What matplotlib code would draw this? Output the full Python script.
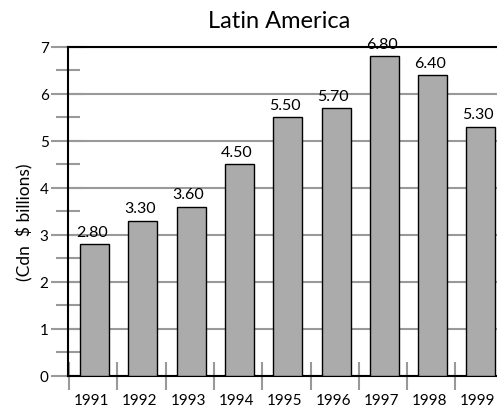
import numpy as np
import matplotlib
matplotlib.use("Agg")
import matplotlib.pyplot as plt
import matplotlib.transforms as mtransforms
from matplotlib.ticker import MultipleLocator

plt.rcParams['font.family'] = ['Lato', 'DejaVu Sans']

years = ['1991', '1992', '1993', '1994', '1995', '1996', '1997', '1998', '1999']
values = [2.80, 3.30, 3.60, 4.50, 5.50, 5.70, 6.80, 6.40, 5.30]

fig = plt.figure(figsize=(4.97, 4.10), dpi=100)
# axes runs a little past the right edge of the figure
ax = fig.add_axes([0.137, 0.0805, 0.8745, 0.8025])

x = np.arange(len(years))
bars = ax.bar(x, values, width=0.6, color='#ababab', edgecolor='black',
              linewidth=1.0, zorder=3)

for xi, v in zip(x, values):
    ax.annotate('%.2f' % v, (xi, v), xytext=(-2, 4), textcoords='offset points',
                ha='center', va='bottom', fontsize=11.5, zorder=4)

ax.set_xlim(-0.55, len(years) - 0.55)
ax.set_ylim(0, 7)

# y axis: integer ticks plus half-step minor ticks, gray and crossing the spine
ax.yaxis.set_major_locator(MultipleLocator(1))
ax.yaxis.set_minor_locator(MultipleLocator(0.5))
ax.tick_params(axis='y', which='major', direction='inout', length=24, width=1.5,
               color='#999999', labelsize=11, pad=2)
ax.tick_params(axis='y', which='minor', direction='inout', length=17, width=1.5,
               color='#999999')
ax.grid(axis='y', color='#999999', linewidth=1.5, zorder=0)

# x axis: category labels, with gray separator ticks between the bars
ax.set_xticks(x)
ax.set_xticklabels(years)
ax.set_xticks(x - 0.53, minor=True)
ax.tick_params(axis='x', which='major', length=0, labelsize=11, pad=12)
ax.tick_params(axis='x', which='minor', direction='inout', length=20, width=1.5,
               color='#999999')
shift = mtransforms.ScaledTranslation(-3 / 100, 0, fig.dpi_scale_trans)
for lbl in ax.get_xticklabels():
    lbl.set_transform(lbl.get_transform() + shift)

for side in ['left', 'top', 'bottom']:
    ax.spines[side].set_color('black')
    ax.spines[side].set_linewidth(1.5)
ax.spines['right'].set_visible(False)

ax.set_ylabel('(Cdn  $ billions)', fontsize=12.5)
ax.yaxis.set_label_coords(-0.08, 0.47)
fig.text(0.561, 0.932, 'Latin America', ha='center', va='baseline', fontsize=17)

fig.savefig('out.png', dpi=100)
